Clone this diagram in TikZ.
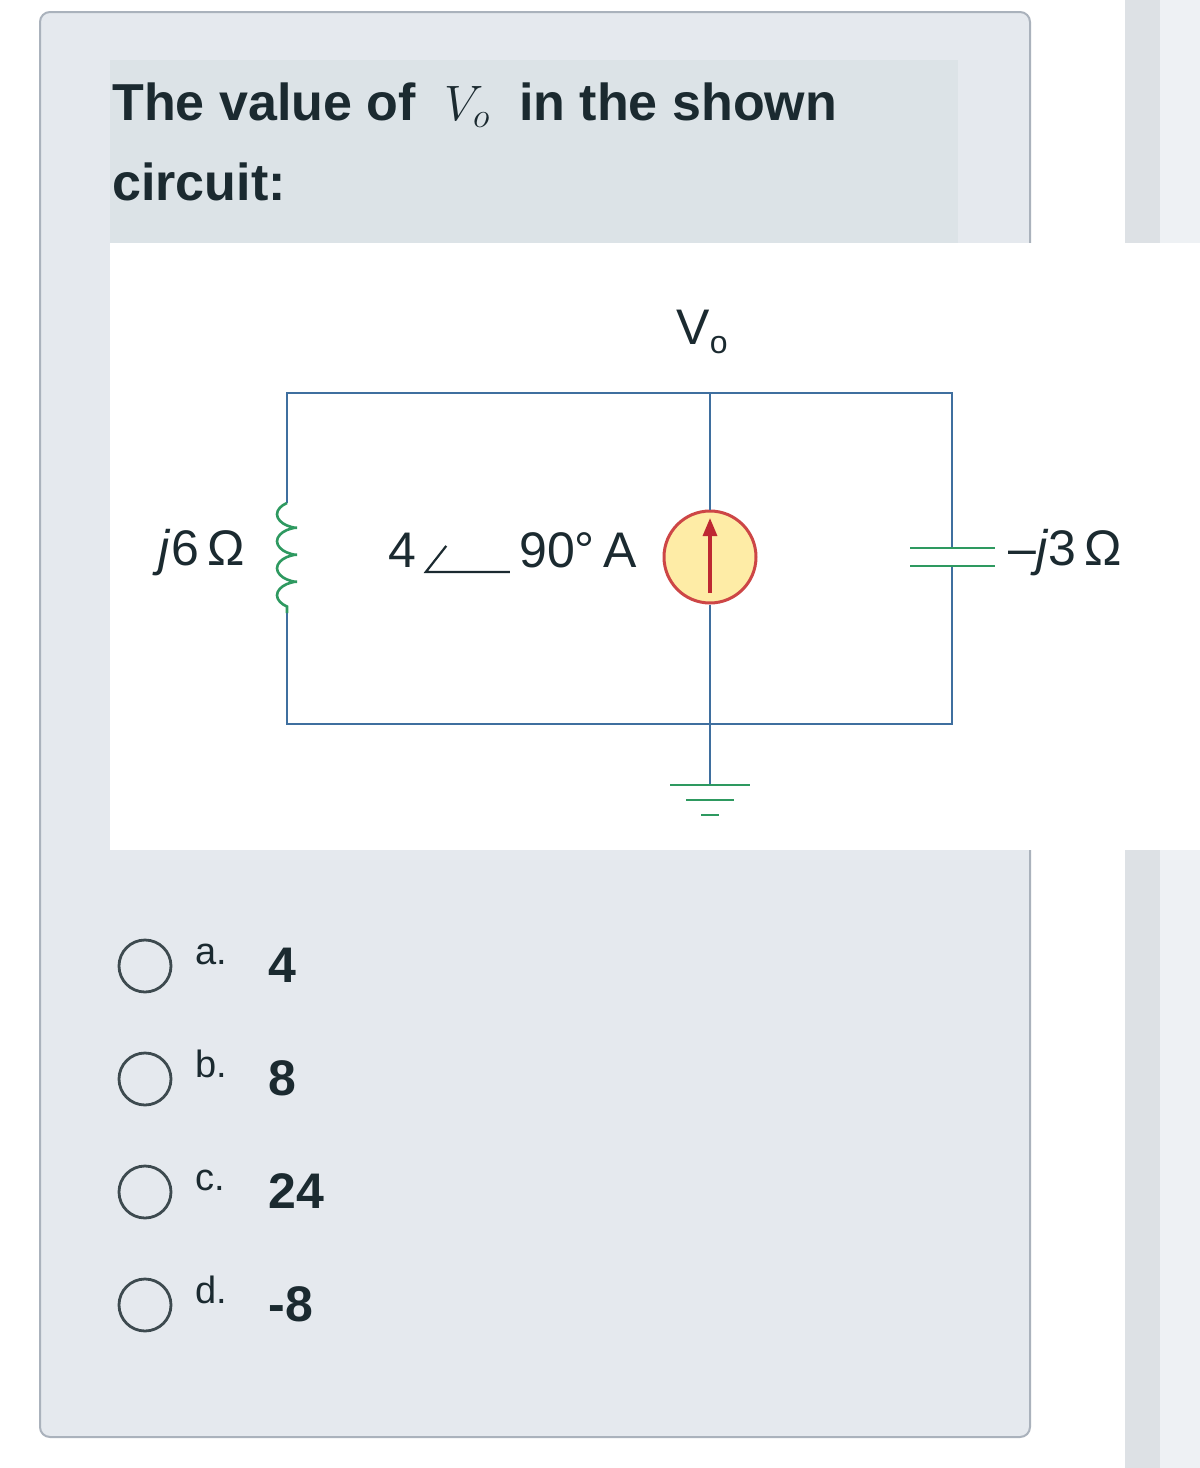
\documentclass[tikz,border=0pt]{standalone}
\usepackage{fontspec}
\setmainfont{Liberation Sans}
\usetikzlibrary{decorations.pathmorphing,arrows.meta}
\definecolor{card}{HTML}{E5E9EE}
\definecolor{band}{HTML}{DCE3E7}
\definecolor{wire}{HTML}{3F6F9F}
\definecolor{comp}{HTML}{2E9960}
\definecolor{txt}{HTML}{1B2A30}
\definecolor{stripa}{HTML}{DDE1E5}
\definecolor{stripb}{HTML}{EEF1F4}
\definecolor{cardline}{HTML}{AAB2BC}
\definecolor{srcline}{HTML}{CD4646}
\definecolor{srcfill}{HTML}{FEECA6}
\definecolor{arr}{HTML}{BE2832}
\tikzset{
  wirestyle/.style={draw=wire,line width=1.2pt},
  compstyle/.style={draw=comp,line width=1.3pt},
  lbl/.style={font=\fontsize{25}{28}\selectfont,text=txt,inner sep=0},
  opt/.style={draw=txt!85,line width=1.4pt},
}
\begin{document}
\begin{tikzpicture}[x=0.5pt,y=-0.5pt]
\useasboundingbox (0,0) rectangle (1200,1468);
\fill[white] (0,0) rectangle (1200,1468);
\fill[stripa] (1125,0) rectangle (1160,1468);
\fill[stripb] (1160,0) rectangle (1200,1468);
\draw[fill=card,draw=cardline,line width=1pt,rounded corners=5pt] (40,12) rectangle (1030,1437);
\fill[band] (110,60) rectangle (958,243);
\node[anchor=base west,font=\bfseries\fontsize{26}{30}\selectfont,text=txt,inner sep=0] (t1) at (112,120) {The value of \ $V_o$ \ in the shown};
\node[anchor=base west,font=\bfseries\fontsize{26}{30}\selectfont,text=txt,inner sep=0] (t2) at (112,200) {circuit:};
\fill[white] (110,243) rectangle (1200,850);
% circuit
\coordinate (tl) at (287,393); \coordinate (tm) at (710,393); \coordinate (tr) at (952,393);
\coordinate (bl) at (287,724); \coordinate (bm) at (710,724); \coordinate (br) at (952,724);
\coordinate (l1) at (287,503); \coordinate (l2) at (287,613);
\coordinate (c1) at (952,548); \coordinate (c2) at (952,566);
\coordinate (g) at (710,785);
\node[circle,draw=srcline,line width=1.5pt,fill=srcfill,minimum size=46pt,inner sep=0] (src) at (710,557) {};
\draw[wirestyle] (l1) -- (tl) -- (tr) -- (c1);
\draw[wirestyle] (c2) -- (br) -- (bl) -- (l2);
\draw[wirestyle] (tm) -- (src.north);
\draw[wirestyle] (src.south) -- (g);
\draw[compstyle,decorate,decoration={coil,aspect=0.45,segment length=13.5pt,amplitude=5pt,mirror,pre length=0pt,post length=0pt}] (l1) -- (l2);
\draw[compstyle] (910,548) -- (995,548) (910,566) -- (995,566);
\draw[compstyle] (670,785) -- (750,785) (686,800) -- (734,800) (701,815) -- (719,815);
\draw[arr,line width=1.6pt,-{Triangle[length=9pt,width=7pt]}] (710,593) -- (710,518);
\node[lbl] (vo) at (702,332) {V\raisebox{-0.35ex}{\fontsize{16}{18}\selectfont o}};
\node[lbl,anchor=east] (ind) at (245,553) {\textit{j}6\,Ω};
\node[lbl,anchor=east] (srcl) at (637,553) {4\,\tikz[baseline=0pt]{\draw[line width=1.1pt] (1.2pt,11pt)--(-9pt,-2pt)--(33pt,-2pt);}\,90°\,A};
\node[lbl,anchor=west] (cap) at (1008,553) {–\textit{j}3\,Ω};
% options
\foreach \y/\l/\v in {966/a./4,1079/b./8,1192/c./24,1305/d./-8}{
  \draw[opt] (145,\y) circle (13pt);
  \node[anchor=base west,font=\fontsize{19}{22}\selectfont,text=txt,inner sep=0] at (195,\y-2) {\l};
  \node[anchor=base west,font=\bfseries\fontsize{25}{28}\selectfont,text=txt,inner sep=0] at (268,\y+16) {\v};
}
\end{tikzpicture}
\end{document}
